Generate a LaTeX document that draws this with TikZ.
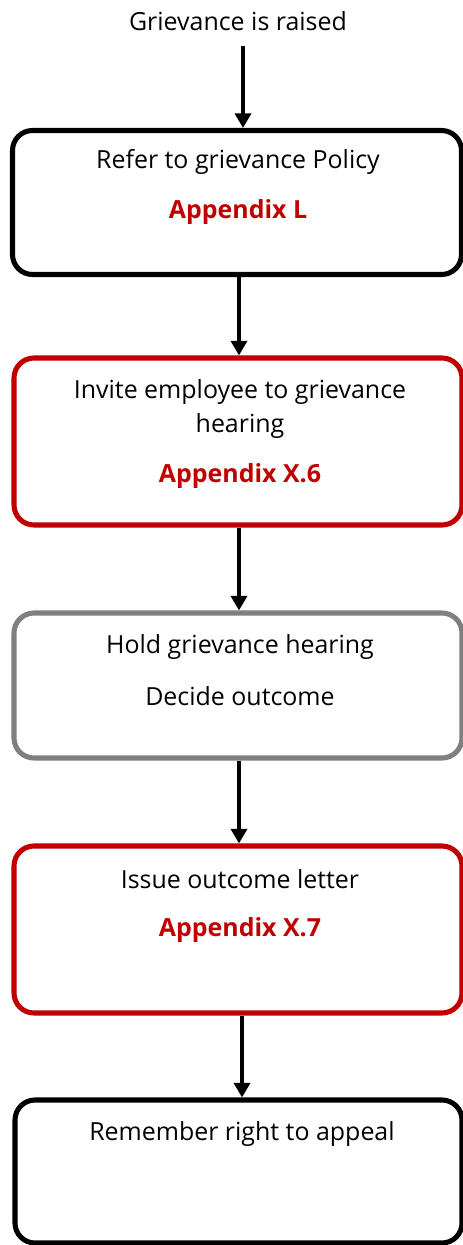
\documentclass[tikz,border=0pt]{standalone}
\usepackage{fontspec}
\setmainfont{Open Sans}
\definecolor{myred}{HTML}{C00000}
\definecolor{mygray}{HTML}{808080}
\usetikzlibrary{arrows.meta}
\tikzset{
  box/.style={draw, rounded corners=20*0.75pt, line width=3.8pt, fill=white, inner sep=0pt},
  txt/.style={font=\fontsize{18.7}{25.5}\selectfont, inner sep=0pt, align=center},
  app/.style={font=\fontsize{18.7}{25.5}\selectfont\bfseries, text=myred, inner sep=0pt},
  arr/.style={line width=3.2pt, -{Triangle[length=11pt,width=12pt]}}
}
\begin{document}
\begin{tikzpicture}[x=0.75pt,y=-0.75pt]
\useasboundingbox (0,0) rectangle (463,1245);
\node[txt] (start) at (238,21) {Grievance is raised};
% boxes
\node[box, minimum width=449*0.75pt, minimum height=144*0.75pt] (b1) at (237,202.5) {};
\node[box, draw=myred, minimum width=448*0.75pt, minimum height=167*0.75pt] (b2) at (238,441.5) {};
\node[box, draw=mygray, minimum width=448*0.75pt, minimum height=145*0.75pt] (b3) at (238,685.5) {};
\node[box, draw=myred, minimum width=448*0.75pt, minimum height=167*0.75pt] (b4) at (238,929.5) {};
\node[box, minimum width=447*0.75pt, minimum height=143*0.75pt] (b5) at (238.5,1171.5) {};
% texts
\node[txt] (t1) at (238,162) {Refer to grievance Policy};
\node[app] (a1) at (238,212) {Appendix L};
\node[txt] (t2) at (240,409) {Invite employee to grievance\\hearing};
\node[app] (a2) at (240,476) {Appendix X.6};
\node[txt] (t3a) at (240,647) {Hold grievance hearing};
\node[txt] (t3b) at (240,696) {Decide outcome};
\node[txt] (t4) at (240,879) {Issue outcome letter};
\node[app] (a4) at (240,930) {Appendix X.7};
\node[txt] (t5) at (242,1134) {Remember right to appeal};
% arrows
\draw[arr] ([xshift=5*0.75pt]start.south |- 0,46) -- ([xshift=6*0.75pt]b1.north);
\draw[arr] ([xshift=2*0.75pt]b1.south) -- ([xshift=1*0.75pt]b2.north);
\draw[arr] ([xshift=1*0.75pt]b2.south) -- ([xshift=1*0.75pt]b3.north);
\draw[arr] ([xshift=1*0.75pt]b3.south) -- ([xshift=1*0.75pt]b4.north);
\draw[arr] ([xshift=4*0.75pt]b4.south) -- ([xshift=3.5*0.75pt]b5.north);
\end{tikzpicture}
\end{document}
